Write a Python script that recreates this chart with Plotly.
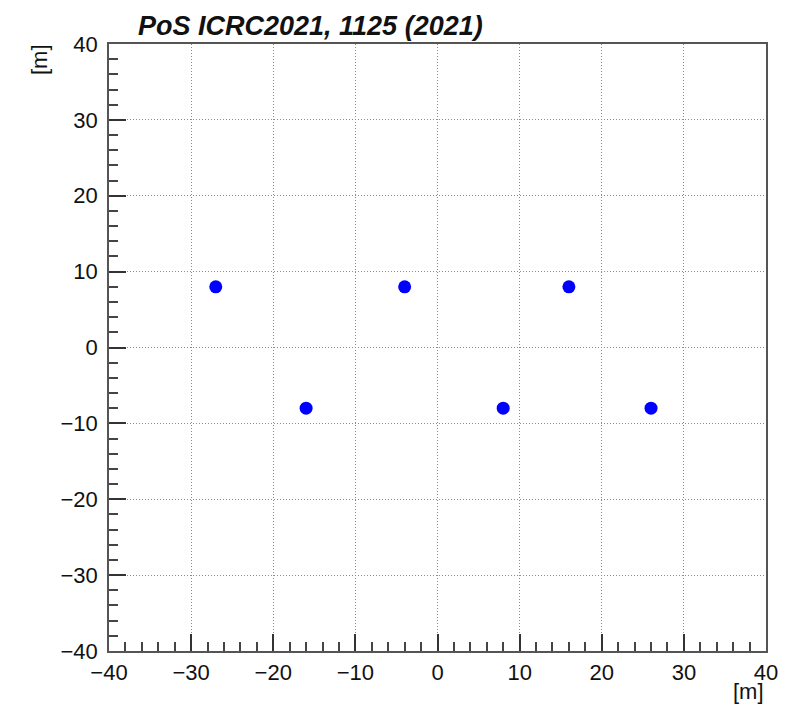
import plotly.graph_objects as go

# Data: station positions [m]
x_pos = [-27, -4, 16, -16, 8, 26]
y_pos = [8, 8, 8, -8, -8, -8]

title_text = "PoS ICRC2021, 1125 (2021)"
x_label = "[m]"
y_label = "[m]"

FONT = "Liberation Sans, Arial, sans-serif"

fig = go.Figure()
fig.add_trace(go.Scatter(
    x=x_pos, y=y_pos, mode="markers",
    marker=dict(color="#0000ff", size=13, line=dict(width=0)),
    showlegend=False, hoverinfo="x+y",
))

axis_common = dict(
    range=[-40, 40], dtick=10, tick0=0,
    showline=True, linecolor="#555555", linewidth=1.5, mirror=True,
    ticks="inside", ticklen=17, tickwidth=1.5, tickcolor="#333333",
    minor=dict(dtick=2, ticks="inside", ticklen=9, tickwidth=1.5, tickcolor="#444444", showgrid=False),
    showgrid=True, gridcolor="#8a8a8a", gridwidth=1, griddash="1px,2px",
    zeroline=False,
    tickfont=dict(family=FONT, size=22, color="#111111"),
)

fig.update_layout(
    width=791, height=705,
    margin=dict(l=109, r=25, t=44, b=54, autoexpand=False),
    paper_bgcolor="white", plot_bgcolor="white",
    xaxis=dict(**axis_common, ticklabelstandoff=1),
    yaxis=dict(**axis_common, ticklabelstandoff=5),
    annotations=[
        dict(text=title_text, xref="paper", yref="paper", x=(136 - 109) / 657, y=1,
             xanchor="left", yanchor="bottom", yshift=1, showarrow=False,
             font=dict(family=FONT, size=27, color="#111111",
                       weight="bold", style="italic")),
        dict(text=x_label, xref="paper", yref="paper", x=1, y=0, xanchor="right", yanchor="top",
             yshift=-26, showarrow=False,
             font=dict(family=FONT, size=22, color="#111111")),
        dict(text=y_label, xref="paper", yref="paper", x=0, y=1, xanchor="right", yanchor="top",
             xshift=-55, yshift=2, textangle=-90, showarrow=False,
             font=dict(family=FONT, size=22, color="#111111")),
    ],
)

fig.write_html("out.html")
